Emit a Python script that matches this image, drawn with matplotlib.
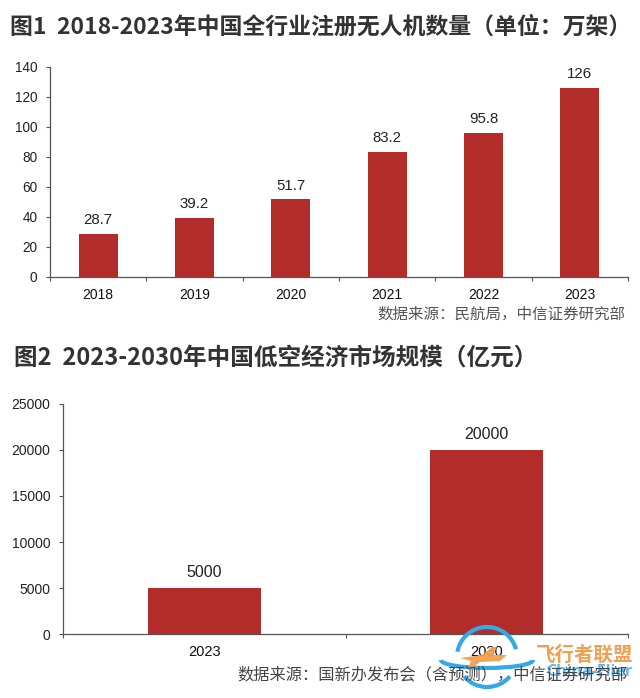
import matplotlib
matplotlib.use('Agg')
import matplotlib.pyplot as plt
from matplotlib.patches import Arc, Polygon

# data
years_1 = ['2018', '2019', '2020', '2021', '2022', '2023']
drones = [28.7, 39.2, 51.7, 83.2, 95.8, 126]
drone_labels = ['28.7', '39.2', '51.7', '83.2', '95.8', '126']
years_2 = ['2023', '2030']
market = [5000, 20000]
ticks_1 = [0, 20, 40, 60, 80, 100, 120, 140]
ticks_2 = [0, 5000, 10000, 15000, 20000, 25000]

W, H = 640, 698
BAR_COLOR = '#b22c2a'
AXIS_COLOR = '#555555'
CJK = ['Noto Sans CJK SC', 'DejaVu Sans']
LATIN = ['Liberation Sans', 'DejaVu Sans']


def add_axes(left, top, right, bottom):
    return fig.add_axes([left / W, 1 - bottom / H, (right - left) / W, (bottom - top) / H])


def bar_chart(ax, cats, vals, labels, yticks, bar_width, ytick_size, xtick_size, label_size, pad):
    xs = list(range(len(cats)))
    ax.bar(xs, vals, width=bar_width, color=BAR_COLOR)
    ax.set_xlim(-0.5, len(cats) - 0.5)
    ax.set_ylim(yticks[0], yticks[-1])
    ax.set_yticks(yticks)
    ax.set_yticklabels([str(t) for t in yticks], family=LATIN, fontsize=ytick_size, color='#222222')
    ax.set_xticks([x - 0.5 for x in xs] + [len(cats) - 0.5])
    ax.set_xticklabels([])
    ax.tick_params(axis='both', length=3, width=0.8, color=AXIS_COLOR, pad=6)
    for x, v, lab in zip(xs, vals, labels):
        ax.annotate(lab, (x, v), xytext=(0, pad), textcoords='offset points', ha='center',
                    va='bottom', family=LATIN, fontsize=label_size, color='#222222')
        ax.annotate(cats[x], (x, 0), xycoords=('data', 'axes fraction'), xytext=(0, -8),
                    textcoords='offset points', ha='center', va='top', family=LATIN,
                    fontsize=xtick_size, color='#111111')
    for s in ['top', 'right']:
        ax.spines[s].set_visible(False)
    for s in ['left', 'bottom']:
        ax.spines[s].set_color(AXIS_COLOR)
        ax.spines[s].set_linewidth(0.9)


fig = plt.figure(figsize=(W / 100, H / 100), dpi=100, facecolor='white')

ax1 = add_axes(50, 67, 628, 277)
bar_chart(ax1, years_1, drones, drone_labels, ticks_1, 0.405, 9.8, 10, 10.8, 5)

ax2 = add_axes(63, 404, 628, 634)
bar_chart(ax2, years_2, market, ['5000', '20000'], ticks_2, 0.4, 10, 10.5, 11.5, 5.5)

# titles and sources
fig.text(10 / W, 1 - 27 / H, '图1  2018-2023年中国全行业注册无人机数量（单位：万架）', family=CJK,
         fontsize=16.5, fontweight='bold', color='#333333', va='center')
fig.text(14 / W, 1 - 358 / H, '图2  2023-2030年中国低空经济市场规模（亿元）', family=CJK,
         fontsize=17, fontweight='bold', color='#333333', va='center')
fig.text(625 / W, 1 - 314 / H, '数据来源：民航局，中信证券研究部', family=CJK, fontsize=11.2,
         color='#555555', ha='right', va='center')
fig.text(627 / W, 1 - 675 / H, '数据来源：国新办发布会（含预测），中信证券研究部', family=CJK, fontsize=11.7,
         color='#444444', ha='right', va='center')

# watermark
overlay = fig.add_axes([0, 0, 1, 1], facecolor='none')
overlay.set_xlim(0, W)
overlay.set_ylim(H, 0)
overlay.axis('off')
BLUE = '#35a9e8'
ORANGE = '#f0a050'
overlay.add_patch(Arc((487, 657), 60, 60, theta1=190, theta2=345, ec=BLUE, lw=3))
overlay.add_patch(Arc((487, 657), 60, 60, theta1=40, theta2=140, ec=BLUE, lw=3))
overlay.add_patch(Arc((487, 660), 92, 16, theta1=0, theta2=180, ec=BLUE, lw=3))
overlay.add_patch(Polygon([(460, 658), (482, 655), (492, 647), (497, 647), (493, 655), (507, 655),
                           (500, 661), (480, 662), (472, 668), (468, 668), (471, 661)],
                          closed=True, fc=ORANGE, ec='none', alpha=0.95))
overlay.text(585, 655, '飞行者联盟', family=CJK, fontsize=14, fontweight='bold', color=ORANGE,
             ha='center', va='center')
overlay.text(589, 672, 'China-Flier', family=['Open Sans'], fontsize=11.5, fontweight='bold', color=BLUE,
             alpha=0.8, ha='center', va='center')

fig.savefig('out.png', dpi=100)
